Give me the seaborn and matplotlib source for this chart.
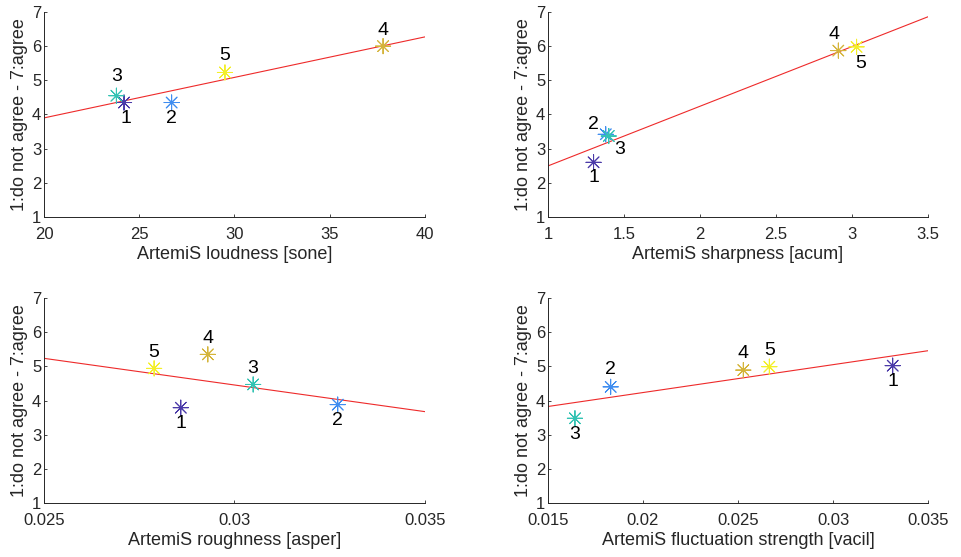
import matplotlib
matplotlib.use("Agg")
import matplotlib.pyplot as plt
import seaborn as sns
import numpy as np
import pandas as pd

# ---- data ----
ids = ["1", "2", "3", "4", "5"]
agree = {
    "loud": [4.35, 4.35, 4.55, 6.00, 5.23],
    "sharp": [2.60, 3.42, 3.37, 5.87, 5.98],
    "rough": [3.79, 3.88, 4.47, 5.35, 4.94],
    "fluct": [5.02, 4.40, 3.48, 4.89, 4.99],
}
loudness = [24.2, 26.7, 23.8, 37.8, 29.5]
sharpness = [1.30, 1.38, 1.40, 2.91, 3.03]
roughness = [0.02859, 0.03271, 0.03049, 0.02930, 0.02789]
fluctuation = [0.03314, 0.01830, 0.01642, 0.02528, 0.02665]

xlabels = ["ArtemiS loudness [sone]", "ArtemiS sharpness [acum]",
           "ArtemiS roughness [asper]", "ArtemiS fluctuation strength [vacil]"]
ylabel = "1:do not agree - 7:agree"
xlims = [(20, 40), (1, 3.5), (0.025, 0.035), (0.015, 0.035)]
xticks = [[20, 25, 30, 35, 40], [1, 1.5, 2, 2.5, 3, 3.5],
          [0.025, 0.03, 0.035], [0.015, 0.02, 0.025, 0.03, 0.035]]
xticklabels = [["20", "25", "30", "35", "40"], ["1", "1.5", "2", "2.5", "3", "3.5"],
               ["0.025", "0.03", "0.035"], ["0.015", "0.02", "0.025", "0.03", "0.035"]]

# label placement per panel (offset in pixels: dx, dy)
offsets = [
    [(2, -16), (0, -16), (0, 19), (0, 16), (0, 17)],
    [(0, -15), (-12, 10), (11, -13), (-4, 16), (4, -17)],
    [(0, -16), (0, -16), (0, 16), (0, 16), (0, 16)],
    [(0, -16), (0, 17), (0, -16), (0, 17), (0, 16)],
]

colors = ["#4b3aa8", "#3f8df0", "#33c3b3", "#d4b43a", "#f3ef2a"]

sns.set_theme(style="ticks")
plt.rcParams["font.family"] = ["Liberation Sans", "DejaVu Sans"]
plt.rcParams["axes.edgecolor"] = "#262626"

fig = plt.figure(figsize=(9.61, 5.57), dpi=100)
positions = [
    (0.0458, 0.6104, 0.3964, 0.3681),
    (0.5702, 0.6104, 0.3955, 0.3681),
    (0.0458, 0.0969, 0.3964, 0.3681),
    (0.5702, 0.0969, 0.3955, 0.3681),
]
xs = [loudness, sharpness, roughness, fluctuation]
ys = [agree["loud"], agree["sharp"], agree["rough"], agree["fluct"]]

for i in range(4):
    ax = fig.add_axes(positions[i])
    df = pd.DataFrame({"x": xs[i], "y": ys[i], "id": ids})
    ax.set_xlim(*xlims[i])
    ax.set_ylim(1, 7)
    sns.regplot(data=df, x="x", y="y", ax=ax, scatter=False, ci=None,
                truncate=False, color="#ee2a2a", line_kws={"lw": 0.8})
    sns.scatterplot(data=df, x="x", y="y", hue="id", palette=colors,
                    marker=(8, 2, 0), s=120, linewidth=0.7, legend=False,
                    ax=ax, zorder=3)
    for j in range(5):
        ax.annotate(ids[j], (xs[i][j], ys[i][j]), xytext=offsets[i][j],
                    textcoords="offset pixels", ha="center", va="center",
                    fontsize=14, color="black")
    ax.set_xlim(*xlims[i])
    ax.set_ylim(1, 7)
    ax.set_xticks(xticks[i])
    ax.set_xticklabels(xticklabels[i])
    ax.set_yticks([1, 2, 3, 4, 5, 6, 7])
    ax.tick_params(direction="in", length=2.5, width=0.6, labelsize=12,
                   colors="#262626")
    ax.tick_params(axis="x", pad=7)
    ax.tick_params(axis="y", pad=2)
    ax.set_xlabel(xlabels[i], fontsize=13, color="#262626", labelpad=3)
    ax.set_ylabel(ylabel, fontsize=13, color="#262626", labelpad=3)
    sns.despine(ax=ax)
    for s in ["left", "bottom"]:
        ax.spines[s].set_linewidth(0.7)

fig.savefig("out.png", dpi=100)
